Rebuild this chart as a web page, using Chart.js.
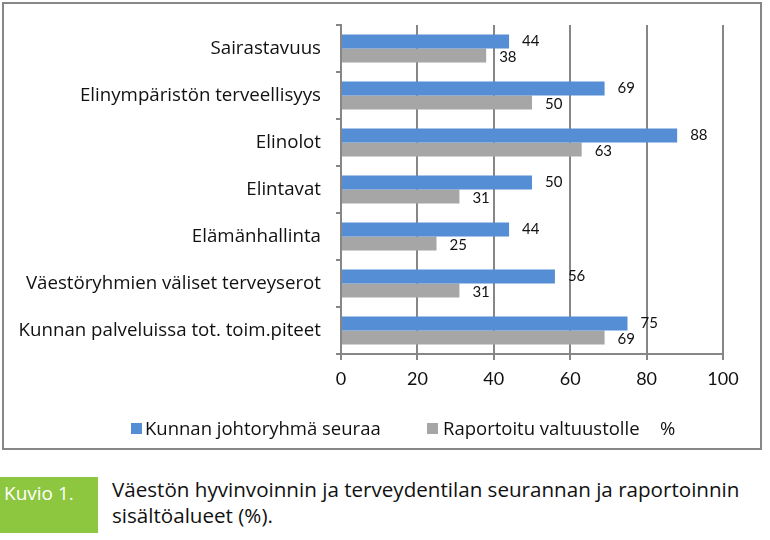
<!DOCTYPE html>
<html>
<head>
<meta charset="utf-8">
<script src="https://cdn.jsdelivr.net/npm/chart.js@4"></script>
<style>
  body { margin: 0; background: #fff; font-family: "Open Sans", sans-serif; }
  #box { position: absolute; left: 2px; top: 2px; width: 756px; height: 444px; border: 2px solid #878787; }
  #legend { position: absolute; left: 0; top: 415px; width: 770px; height: 26px; font-size: 18.5px; color: #111; }
  #legend span { position: absolute; top: 0; line-height: 26px; white-space: nowrap; }
  #legend i { position: absolute; top: 8px; width: 11px; height: 11px; }
  #kuvio { position: absolute; left: 0; top: 477px; width: 98px; height: 56px; background: #8dc63f; color: #fff; font-size: 19px; }
  #kuvio span { position: absolute; left: 4px; top: 3px; }
  #caption { position: absolute; left: 112px; top: 476px; font-size: 20.6px; line-height: 26px; color: #111; }
</style>
</head>
<body>
<div id="box"><canvas id="myChart" width="756" height="444"></canvas></div>
<div id="legend"></div>
<div id="kuvio"><span>Kuvio 1.</span></div>
<div id="caption">Väestön hyvinvoinnin ja terveydentilan seurannan ja raportoinnin<br>sisältöalueet (%).</div>
<script>
var categories = ["Sairastavuus", "Elinympäristön terveellisyys", "Elinolot", "Elintavat",
  "Elämänhallinta", "Väestöryhmien väliset terveyserot", "Kunnan palveluissa tot. toim.piteet"];

var seuraa = [44, 69, 88, 50, 44, 56, 75];
var raportoitu = [38, 50, 63, 31, 25, 31, 69];

var xTicks = [0, 20, 40, 60, 80, 100];

// numbers next to the bar ends
var valueLabels = {
  id: 'valueLabels',
  afterDatasetsDraw: function(chart) {
    var ctx = chart.ctx;
    ctx.save();
    ctx.font = '15px Lato';
    ctx.fillStyle = '#111';
    ctx.textBaseline = 'middle';
    chart.data.datasets.forEach(function(ds, i) {
      chart.getDatasetMeta(i).data.forEach(function(bar, j) {
        ctx.fillText(ds.data[j], bar.x + 13, bar.y + (i == 1 ? 2 : 0));
      });
    });
    ctx.restore();
  }
};

var ctx = document.getElementById("myChart");
var myChart = new Chart(ctx, {
  type: 'bar',
  data: {
    labels: categories,
    datasets: [
      {
        label: "Kunnan johtoryhmä seuraa",
        data: seuraa,
        backgroundColor: "#558ed5",
        categoryPercentage: 0.6,
        barPercentage: 1
      },
      {
        label: "Raportoitu valtuustolle",
        data: raportoitu,
        backgroundColor: "#a6a6a6",
        categoryPercentage: 0.6,
        barPercentage: 1
      }
    ]
  },
  options: {
    indexAxis: 'y',
    responsive: false,
    animation: false,
    layout: { padding: { top: 21, right: 37, left: 0, bottom: 46 } },
    scales: {
      x: {
        min: 0,
        max: 100,
        afterBuildTicks: function(scale) {
          scale.ticks = xTicks.map(function(v) { return { value: v }; });
        },
        afterFit: function(scale) { scale.height = 48; },
        grid: { color: '#868686', lineWidth: 2, tickLength: 6 },
        border: { color: '#868686', width: 2 },
        ticks: { color: '#111', font: { family: 'Lato', size: 18 }, padding: 8 }
      },
      y: {
        afterFit: function(scale) {
          scale.width = 337;
          scale.paddingTop = 0;
          scale.paddingBottom = 0;
        },
        grid: { drawOnChartArea: false, color: '#868686', lineWidth: 2, tickLength: 5 },
        border: { color: '#868686', width: 2 },
        ticks: { color: '#111', font: { family: 'Open Sans', size: 18.7 }, padding: 15 }
      }
    },
    plugins: {
      tooltip: { enabled: false },
      legend: { display: false }
    }
  },
  plugins: [valueLabels]
});

// legend below the plot, built from the datasets
var legendPos = [[131, 145], [427, 443]];
var legend = document.getElementById('legend');
myChart.data.datasets.forEach(function(ds, i) {
  var box = document.createElement('i');
  box.style.left = legendPos[i][0] + 'px';
  box.style.background = ds.backgroundColor;
  legend.appendChild(box);
  var t = document.createElement('span');
  t.style.left = legendPos[i][1] + 'px';
  t.textContent = ds.label;
  legend.appendChild(t);
});
var pct = document.createElement('span');
pct.style.left = '660px';
pct.textContent = '%';
legend.appendChild(pct);
</script>
</body>
</html>
